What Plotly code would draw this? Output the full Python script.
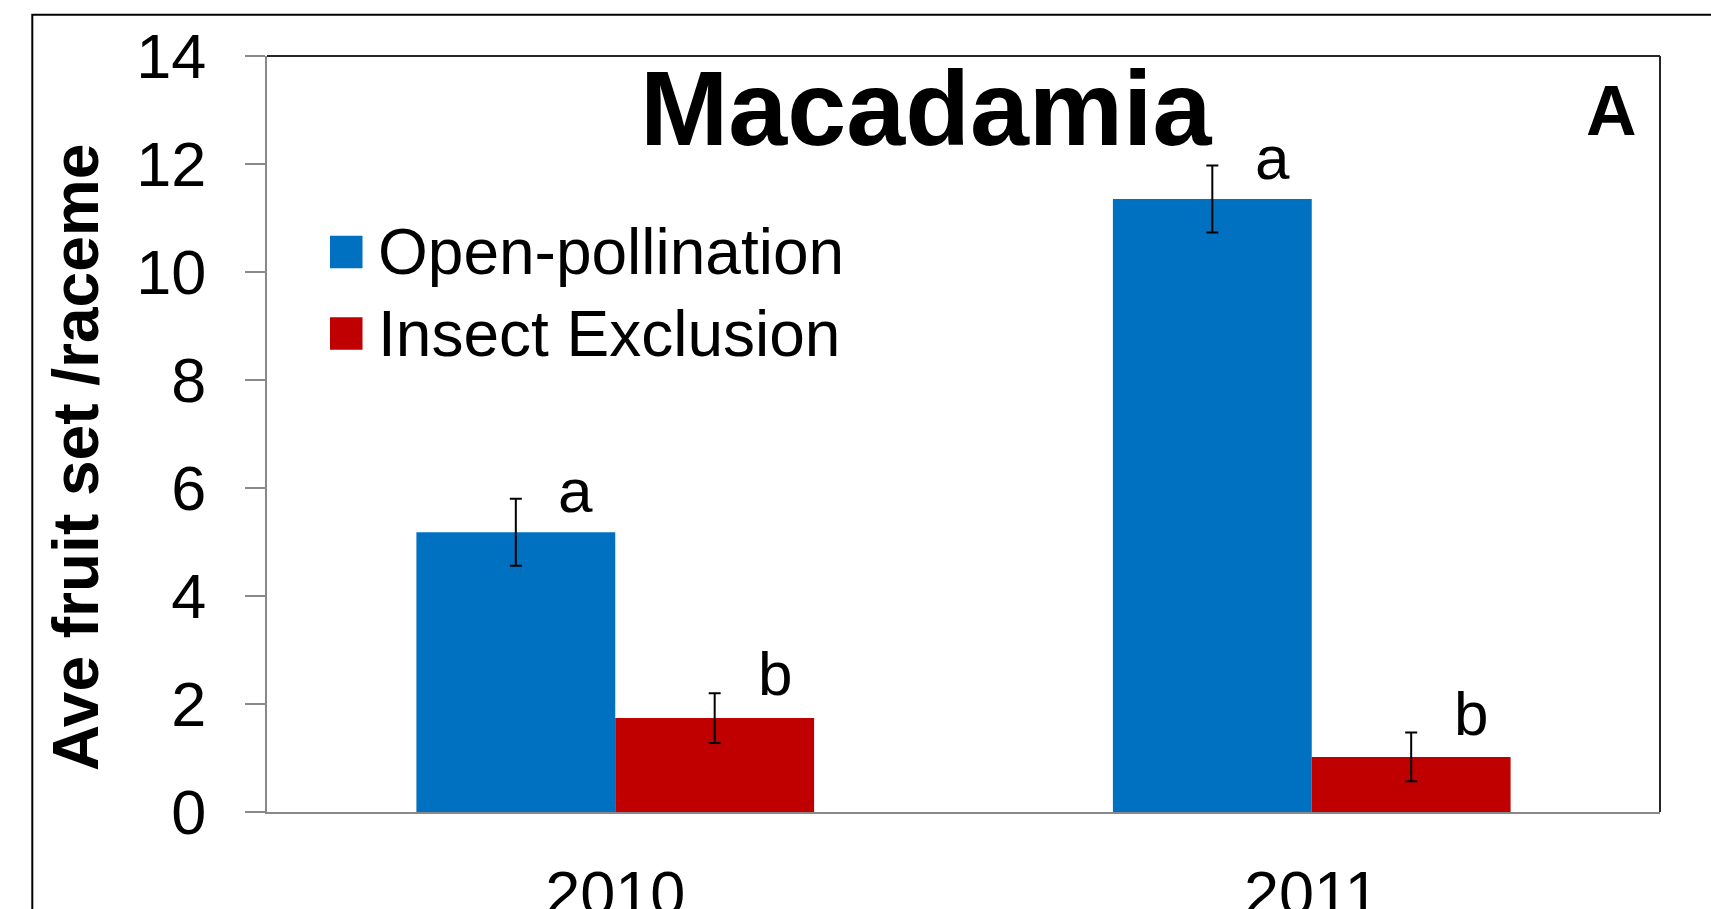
import plotly.graph_objects as go

# ---- data -------------------------------------------------------------
years = ["2010", "2011"]
open_pollination = [5.18, 11.35]
open_pollination_se = [0.62, 0.62]
insect_exclusion = [1.74, 1.02]
insect_exclusion_se = [0.46, 0.45]
open_letters = ["a", "a"]
exclusion_letters = ["b", "b"]
y_ticks = [0, 2, 4, 6, 8, 10, 12, 14]

# ---- page geometry ----------------------------------------------------
W, H = 1711, 909
ML, MR, MT, MB = 267, 51, 56, 97
PW, PH = W - ML - MR, H - MT - MB
FONT = "Liberation Sans, Arial, sans-serif"
BLUE = "#0070C0"
RED = "#C00000"
AXIS_GREY = "#898989"
FRAME_DARK = "#262626"
BARGAP = 0.429


def px(x):
    """pixel column -> paper x"""
    return (x - ML) / PW


def py(y):
    """pixel row -> paper y"""
    return (H - MB - y) / PH


fig = go.Figure()

fig.add_trace(go.Bar(
    name="Open-pollination", x=years, y=open_pollination,
    marker=dict(color=BLUE, line=dict(width=0)),
    error_y=dict(type="data", array=open_pollination_se, color="black",
                 thickness=2, width=6),
))
fig.add_trace(go.Bar(
    name="Insect Exclusion", x=years, y=insect_exclusion,
    marker=dict(color=RED, line=dict(width=0)),
    error_y=dict(type="data", array=insect_exclusion_se, color="black",
                 thickness=2, width=6),
))

# significance letters beside each error bar
half = (1 - BARGAP) / 4
annotations = []
for i in range(len(years)):
    for offset, val, se, letter, shift in (
        (-half, open_pollination[i], open_pollination_se[i], open_letters[i], -28),
        (half, insect_exclusion[i], insect_exclusion_se[i], exclusion_letters[i], -17),
    ):
        annotations.append(dict(
            x=i + offset, y=val + se, xref="x", yref="y",
            text=letter, showarrow=False, xanchor="center", yanchor="bottom",
            xshift=60, yshift=shift,
            font=dict(family=FONT, size=62, color="black"),
        ))

# chart title and panel letter
annotations.append(dict(
    x=px(926), y=py(108), xref="paper", yref="paper",
    text="<b>Macadamia</b>", showarrow=False, xanchor="center", yanchor="middle",
    font=dict(family=FONT, size=106, color="black"),
))
annotations.append(dict(
    x=px(1611), y=py(111), xref="paper", yref="paper",
    text="<b>A</b>", showarrow=False, xanchor="center", yanchor="middle",
    font=dict(family=FONT, size=70, color="black"),
))

# y-axis title
annotations.append(dict(
    x=px(76), y=py(458), xref="paper", yref="paper",
    text="<b>Ave fruit set /raceme</b>", showarrow=False, textangle=-90,
    xanchor="center", yanchor="middle",
    font=dict(family=FONT, size=64, color="black"),
))

# legend drawn as swatches + labels
shapes = []
legend_rows = [("Open-pollination", BLUE, 252), ("Insect Exclusion", RED, 333.5)]
for label, color, cy in legend_rows:
    shapes.append(dict(
        type="rect", xref="paper", yref="paper",
        x0=px(330), x1=px(362.5), y0=py(cy + 16.3), y1=py(cy - 16.3),
        fillcolor=color, line=dict(width=0),
    ))
    annotations.append(dict(
        x=px(376), y=py(cy), xref="paper", yref="paper",
        text=label, showarrow=False, xanchor="left", yanchor="middle",
        font=dict(family=FONT, size=64, color="black"),
    ))

# plot-area frame: dark top and right edges
shapes.append(dict(type="line", xref="paper", yref="paper",
                   x0=0, x1=1, y0=1, y1=1,
                   line=dict(color=FRAME_DARK, width=2)))
shapes.append(dict(type="line", xref="paper", yref="paper",
                   x0=1, x1=1, y0=0, y1=1,
                   line=dict(color=FRAME_DARK, width=2)))

# outer figure border (runs off the right and bottom of the page)
shapes.append(dict(type="rect", xref="paper", yref="paper",
                   x0=px(32.3), x1=px(W + 40), y0=py(H + 40), y1=py(14.7),
                   line=dict(color="black", width=2), fillcolor="rgba(0,0,0,0)"))

fig.update_layout(
    width=W, height=H,
    margin=dict(l=ML, r=MR, t=MT, b=MB, pad=0),
    template="none",
    paper_bgcolor="white", plot_bgcolor="white",
    barmode="group", bargap=BARGAP, bargroupgap=0,
    showlegend=False,
    font=dict(family=FONT, color="black"),
    annotations=annotations,
    shapes=shapes,
    xaxis=dict(
        type="category", range=[-0.5, 1.5],
        showline=True, linecolor=AXIS_GREY, linewidth=2,
        ticks="outside", ticklen=0, tickcolor="rgba(0,0,0,0)",
        ticklabelstandoff=25,
        showgrid=False, zeroline=False,
        tickfont=dict(family=FONT, size=63, color="black"),
    ),
    yaxis=dict(
        range=[0, 14], tickvals=y_ticks,
        showline=True, linecolor=AXIS_GREY, linewidth=2,
        ticks="outside", ticklen=20, tickwidth=2, tickcolor=AXIS_GREY,
        ticklabelstandoff=26,
        showgrid=False, zeroline=False,
        tickfont=dict(family=FONT, size=63, color="black"),
    ),
)

fig.write_html("out.html")
